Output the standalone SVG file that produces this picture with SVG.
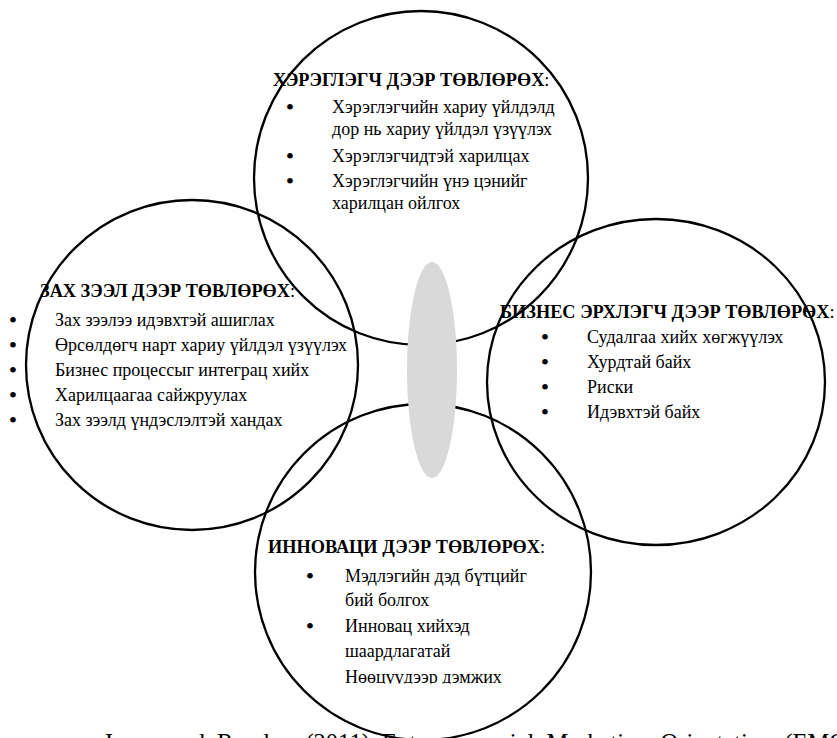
<svg xmlns="http://www.w3.org/2000/svg" width="837" height="738" viewBox="0 0 837 738">
<style>
.c{fill:none;stroke:#000;stroke-width:2.3}
.h{font-family:"Liberation Serif","DejaVu Serif",serif;font-weight:bold;font-size:18.3px;fill:#000}
.h tspan{font-weight:normal}
.t{font-family:"Liberation Serif","DejaVu Serif",serif;font-size:18px;fill:#000}
.b{font-family:"Liberation Serif","DejaVu Serif",serif;font-size:24px;fill:#000;text-anchor:middle}
.cap{font-family:"Liberation Serif","DejaVu Serif",serif;font-size:24.5px;fill:#000;word-spacing:6px}
</style>
<defs>
<clipPath id="clipLast"><rect x="300" y="660" width="260" height="23.5"/></clipPath>
</defs>
<rect width="837" height="738" fill="#fff"/>

<g id="node-customer">
<circle class="c" cx="421" cy="178" r="167"/>
<text class="h" x="273" y="86">ХЭРЭГЛЭГЧ ДЭЭР ТӨВЛӨРӨХ<tspan>:</tspan></text>
<text class="b" x="290" y="115">•</text>
<text class="t" x="332" y="113">Хэрэглэгчийн хариу үйлдэлд</text>
<text class="t" x="332" y="135">дор нь хариу үйлдэл үзүүлэх</text>
<text class="b" x="290" y="164">•</text>
<text class="t" x="332" y="162">Хэрэглэгчидтэй харилцах</text>
<text class="b" x="290" y="189">•</text>
<text class="t" x="332" y="187">Хэрэглэгчийн үнэ цэнийг</text>
<text class="t" x="332" y="209">харилцан ойлгох</text>
</g>

<g id="node-market">
<ellipse class="c" cx="192" cy="365" rx="166" ry="165"/>
<text class="h" x="40" y="297">ЗАХ ЗЭЭЛ ДЭЭР ТӨВЛӨРӨХ<tspan>:</tspan></text>
<text class="b" x="13" y="328">•</text>
<text class="t" x="55" y="326">Зах зээлээ идэвхтэй ашиглах</text>
<text class="b" x="13" y="353">•</text>
<text class="t" x="55" y="351">Өрсөлдөгч нарт хариу үйлдэл үзүүлэх</text>
<text class="b" x="13" y="378">•</text>
<text class="t" x="55" y="376">Бизнес процессыг интеграц хийх</text>
<text class="b" x="13" y="403">•</text>
<text class="t" x="55" y="401">Харилцаагаа сайжруулах</text>
<text class="b" x="13" y="428">•</text>
<text class="t" x="55" y="426">Зах зээлд үндэслэлтэй хандах</text>
</g>

<g id="node-entrepreneur">
<ellipse class="c" cx="656" cy="382" rx="169" ry="163"/>
<text class="h" x="500" y="318">БИЗНЕС ЭРХЛЭГЧ ДЭЭР ТӨВЛӨРӨХ<tspan>:</tspan></text>
<text class="b" x="545" y="345">•</text>
<text class="t" x="587" y="343">Судалгаа хийх хөгжүүлэх</text>
<text class="b" x="545" y="370">•</text>
<text class="t" x="587" y="368">Хурдтай байх</text>
<text class="b" x="545" y="395">•</text>
<text class="t" x="587" y="393">Риски</text>
<text class="b" x="545" y="420">•</text>
<text class="t" x="587" y="418">Идэвхтэй байх</text>
</g>

<g id="node-innovation">
<circle class="c" cx="423" cy="572" r="168"/>
<text class="h" x="268" y="553">ИННОВАЦИ ДЭЭР ТӨВЛӨРӨХ<tspan>:</tspan></text>
<text class="b" x="310" y="584">•</text>
<text class="t" x="345" y="582">Мэдлэгийн дэд бүтцийг</text>
<text class="t" x="345" y="606">бий болгох</text>
<text class="b" x="310" y="634">•</text>
<text class="t" x="345" y="632">Инновац хийхэд</text>
<text class="t" x="345" y="657">шаардлагатай</text>
<text class="t" x="345" y="683" clip-path="url(#clipLast)">Нөөцүүдээр дэмжих</text>
</g>

<g id="node-center">
<ellipse cx="432" cy="370" rx="25" ry="108" fill="#d9d9d9"/>
</g>

<g id="caption">
<text class="cap" x="103" y="751">Jones and Rowley (2011) Entrepreneurial Marketing Orientation (EMO)</text>
</g>
</svg>
